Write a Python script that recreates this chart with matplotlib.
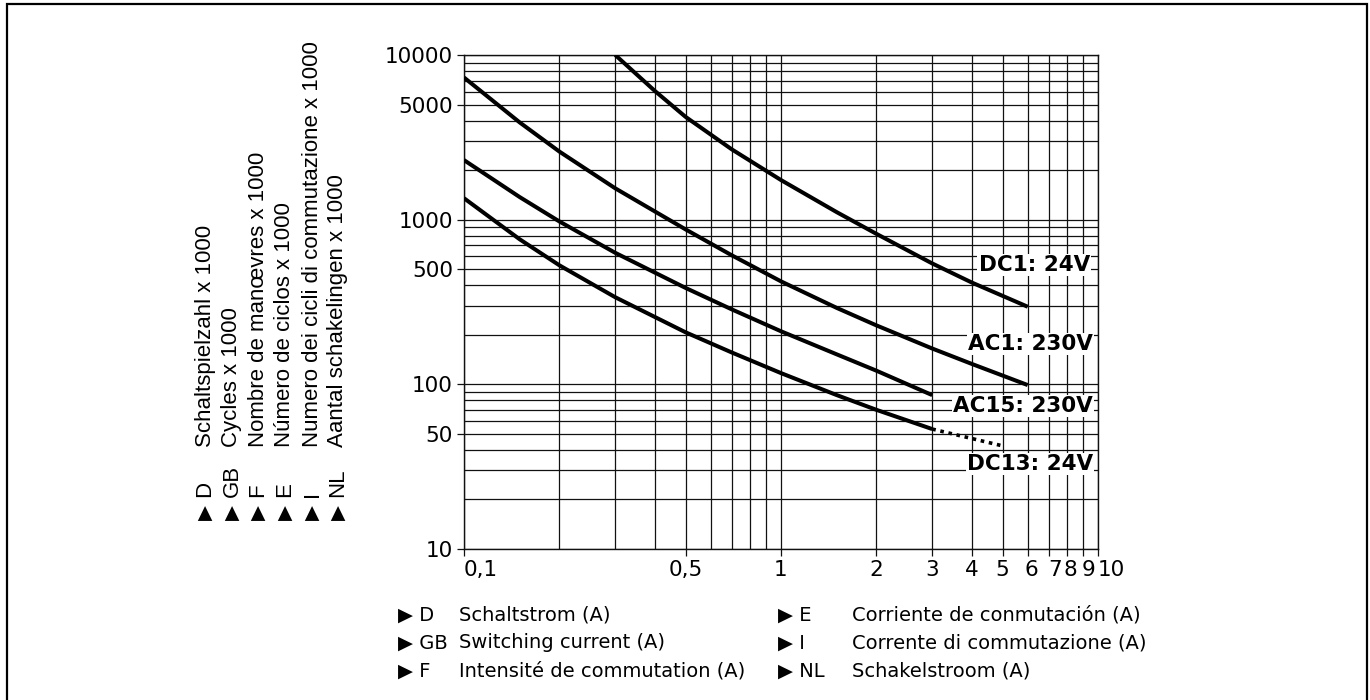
import matplotlib
matplotlib.use("Agg")
import matplotlib.pyplot as plt
from matplotlib.ticker import FixedLocator, FixedFormatter, LogLocator, NullFormatter
from matplotlib.patches import Rectangle
from matplotlib.transforms import ScaledTranslation

# ---- data ----
dc1_x = [0.3, 0.4, 0.5, 0.7, 1, 1.5, 2, 3, 4, 6]
dc1_y = [10000, 6050, 4210, 2670, 1740, 1110, 820, 542, 415, 296]

ac1_x = [0.1, 0.15, 0.2, 0.3, 0.5, 0.7, 1, 1.5, 2, 3, 4, 6]
ac1_y = [7300, 3890, 2590, 1550, 873, 607, 422, 291, 228, 165, 133, 99]

ac15_x = [0.1, 0.15, 0.2, 0.3, 0.5, 0.7, 1, 1.5, 2, 3]
ac15_y = [2300, 1370, 975, 629, 385, 285, 210, 152, 121, 86]

dc13_x = [0.1, 0.15, 0.2, 0.3, 0.5, 0.7, 1, 1.5, 2, 3]
dc13_y = [1350, 759, 528, 338, 207, 156, 117, 86, 70, 53.5]
dc13_dot_x = [3, 5]
dc13_dot_y = [53.5, 42.3]

curve_labels = ["DC1: 24V", "AC1: 230V", "AC15: 230V", "DC13: 24V"]

x_ticks = [0.1, 0.5, 1, 2, 3, 4, 5, 6, 7, 8, 9, 10]
x_ticklabels = ["0,1", "0,5", "1", "2", "3", "4", "5", "6", "7", "8", "9", "10"]
y_ticks = [10, 50, 100, 500, 1000, 5000, 10000]
y_ticklabels = ["10", "50", "100", "500", "1000", "5000", "10000"]

y_codes = ["D", "GB", "F", "E", "I", "NL"]
y_texts = ["Schaltspielzahl x 1000", "Cycles x 1000", "Nombre de manœvres x 1000",
           "Número de ciclos x 1000", "Numero dei cicli di commutazione x 1000",
           "Aantal schakelingen x 1000"]

x_codes_1 = ["D", "GB", "F"]
x_texts_1 = ["Schaltstrom (A)", "Switching current (A)", "Intensité de commutation (A)"]
x_codes_2 = ["E", "I", "NL"]
x_texts_2 = ["Corriente de conmutación (A)", "Corrente di commutazione (A)", "Schakelstroom (A)"]

W, H = 1370, 700


def fx(px):
    return px / W


def fy(py):
    return 1 - py / H


fig = plt.figure(figsize=(13.7, 7), dpi=100)
fig.patch.set_facecolor("white")

# outer frame
fig.patches.append(Rectangle((fx(7), fy(703)), fx(1367) - fx(7), fy(4) - fy(703),
                             transform=fig.transFigure, fill=False, ec="black", lw=1.6))

ax = fig.add_axes([fx(464), fy(549), fx(1098) - fx(464), fy(55) - fy(549)])
ax.set_xscale("log")
ax.set_yscale("log")
ax.set_xlim(0.1, 10)
ax.set_ylim(10, 10000)

ax.xaxis.set_major_locator(FixedLocator(x_ticks))
ax.xaxis.set_major_formatter(FixedFormatter(x_ticklabels))
ax.xaxis.set_minor_locator(LogLocator(base=10, subs=range(2, 10)))
ax.xaxis.set_minor_formatter(NullFormatter())
ax.yaxis.set_major_locator(FixedLocator(y_ticks))
ax.yaxis.set_major_formatter(FixedFormatter(y_ticklabels))
ax.yaxis.set_minor_locator(LogLocator(base=10, subs=range(2, 10)))
ax.yaxis.set_minor_formatter(NullFormatter())

ax.grid(True, which="both", color="#111111", lw=0.9)
ax.tick_params(which="minor", length=0)
ax.tick_params(which="major", direction="out", length=5, width=0.9, color="#111111",
               labelsize=15.5, pad=3)
for s in ax.spines.values():
    s.set_linewidth(1.0)
    s.set_color("#111111")
for lab in ax.get_yticklabels():
    lab.set_fontfamily("DejaVu Sans")

# x labels: first and last start at their tick, the crowded ones shift right
x_shift = [0, 0, 0, 0, 0, 0, 0, 4, 6, 3, 5, 0]
for lab, dx in zip(ax.get_xticklabels(), x_shift):
    lab.set_fontfamily("DejaVu Sans")
    if dx:
        lab.set_transform(lab.get_transform() + ScaledTranslation(dx / 100, 0, fig.dpi_scale_trans))
xl = ax.get_xticklabels()
xl[0].set_horizontalalignment("left")
xl[-1].set_horizontalalignment("left")

lw = 2.9
for xs, ys in [(dc1_x, dc1_y), (ac1_x, ac1_y), (ac15_x, ac15_y), (dc13_x, dc13_y)]:
    ax.plot(xs, ys, color="black", lw=lw, solid_capstyle="butt",
            solid_joinstyle="round", zorder=4)
ax.plot(dc13_dot_x, dc13_dot_y, color="black", lw=2.6, linestyle=(0, (1.0, 1.3)),
        dash_capstyle="butt", zorder=4)

# curve names with white boxes that cut the grid
label_pos = [(1090, 265), (1093, 344), (1093, 406), (1093, 464)]
for txt, (px, py) in zip(curve_labels, label_pos):
    fig.text(fx(px), fy(py), txt, ha="right", va="center", fontsize=15.5,
             fontweight="bold", family="DejaVu Sans",
             bbox=dict(fc="white", ec="none", pad=1.0))

# rotated y legend on the left
col_x = [205, 232, 258, 285, 312, 338]
for cx, code, txt in zip(col_x, y_codes, y_texts):
    fig.text(fx(cx), fy(520), "\u25B6", rotation=90, ha="center", va="bottom",
             fontsize=14, family="DejaVu Sans")
    fig.text(fx(cx), fy(497), code, rotation=90, ha="center", va="bottom",
             fontsize=16, family="Liberation Sans")
    fig.text(fx(cx), fy(447), txt, rotation=90, ha="center", va="bottom",
             fontsize=16, family="Liberation Sans")

# x legend below
row_y = [615, 643, 671]
for ry, c1, t1, c2, t2 in zip(row_y, x_codes_1, x_texts_1, x_codes_2, x_texts_2):
    fig.text(fx(398), fy(ry), "\u25B6 " + c1, ha="left", va="center", fontsize=14,
             family="DejaVu Sans")
    fig.text(fx(459), fy(ry), t1, ha="left", va="center", fontsize=14, family="DejaVu Sans")
    fig.text(fx(778), fy(ry), "\u25B6 " + c2, ha="left", va="center", fontsize=14,
             family="DejaVu Sans")
    fig.text(fx(852), fy(ry), t2, ha="left", va="center", fontsize=14, family="DejaVu Sans")

fig.savefig("out.png", dpi=100)
